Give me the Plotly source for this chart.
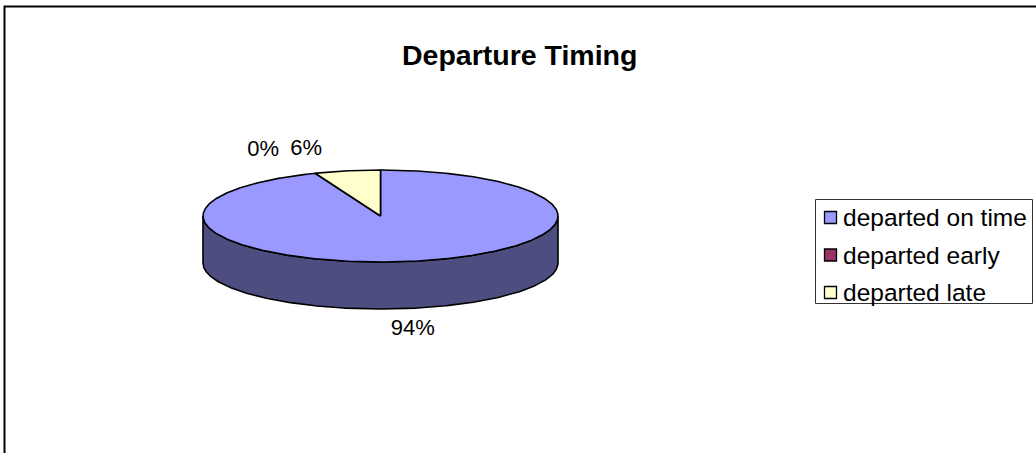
import math
import plotly.graph_objects as go

# Data
categories = ["departed on time", "departed early", "departed late"]
values = [94, 0, 6]
top_colors = ["#9999FF", "#993366", "#FFFFCC"]
side_colors = ["#4D4D80", "#4D1A33", "#808066"]

# Figure / pie geometry (pixel space)
W, H = 1036, 453
cx, cy = 380.5, 216.0      # centre of the top face
rx, ry = 177.5, 46.0       # ellipse radii of the top face
depth = 47.0               # thickness of the disc
FONT = "Liberation Sans, Arial, sans-serif"

total = float(sum(values))
fracs = [v / total for v in values]


def pt(theta_deg, dy=0.0):
    t = math.radians(theta_deg)
    return cx + rx * math.sin(t), cy - ry * math.cos(t) + dy


def arc(a0, a1, dy=0.0, step=0.5):
    n = max(2, int(abs(a1 - a0) / step) + 1)
    xs, ys = [], []
    for i in range(n):
        a = a0 + (a1 - a0) * i / (n - 1)
        x, y = pt(a, dy)
        xs.append(x)
        ys.append(y)
    return xs, ys


# slice angle ranges, clockwise from 12 o'clock
ranges = []
acc = 0.0
for f in fracs:
    ranges.append((acc * 360.0, (acc + f) * 360.0))
    acc += f

fig = go.Figure()

# front walls (visible where the arc lies between 90 and 270 degrees)
for (a0, a1), col in zip(ranges, side_colors):
    lo, hi = max(a0, 90.0), min(a1, 270.0)
    if hi - lo <= 0:
        continue
    tx, ty = arc(lo, hi)
    bx, by = arc(hi, lo, dy=depth)
    fig.add_trace(go.Scatter(
        x=tx + bx + [tx[0]], y=ty + by + [ty[0]],
        mode="lines", fill="toself", fillcolor=col,
        line=dict(color="black", width=1.6),
        hoverinfo="skip", showlegend=False))

# top faces
for (a0, a1), col, name in zip(ranges, top_colors, categories):
    if a1 - a0 <= 0:
        continue
    ax, ay = arc(a0, a1)
    fig.add_trace(go.Scatter(
        x=[cx] + ax + [cx], y=[cy] + ay + [cy],
        mode="lines", fill="toself", fillcolor=col,
        line=dict(color="black", width=1.6),
        name=name, hoverinfo="skip", showlegend=False))

# percentage labels: anchored on the rim at each slice's label angle
label_angles = []
for (a0, a1), f in zip(ranges, fracs):
    label_angles.append(a0 if f == 0 else (a0 + a1) / 2)
label_offsets = [(-1, 21), (-52, -23), (-41, -21)]
lx, ly, lt = [], [], []
for ang, f, (ox, oy) in zip(label_angles, fracs, label_offsets):
    x, y = pt(ang)
    if 90 < ang < 270:
        y += depth
    lx.append(x + ox)
    ly.append(y + oy)
    lt.append(f"{round(f * 100)}%")
fig.add_trace(go.Scatter(
    x=lx, y=ly, text=lt, mode="text", textposition="middle center",
    textfont=dict(family=FONT, size=22, color="black"),
    hoverinfo="skip", showlegend=False))

shapes = [
    # chart frame
    dict(type="rect", xref="x", yref="y", x0=4.5, y0=6.5, x1=W + 10, y1=H + 10,
         line=dict(color="black", width=2), fillcolor="rgba(0,0,0,0)", layer="below"),
    # legend frame
    dict(type="rect", xref="x", yref="y", x0=815.5, y0=199.5, x1=1032.5, y1=303.5,
         line=dict(color="#333333", width=1), fillcolor="white", layer="below"),
]
annotations = []
row_y = [217.5, 255.0, 292.5]
for name, col, yy in zip(categories, top_colors, row_y):
    shapes.append(dict(type="rect", xref="x", yref="y",
                       x0=824.5, x1=836.5, y0=yy - 6, y1=yy + 6,
                       line=dict(color="black", width=1.3), fillcolor=col))
    annotations.append(dict(x=841, y=yy, xref="x", yref="y", text=name,
                            showarrow=False, xanchor="left", yanchor="middle",
                            font=dict(family=FONT, size=24.5, color="black")))

annotations.append(dict(x=519, y=55, xref="x", yref="y", text="<b>Departure Timing</b>",
                        showarrow=False, xanchor="center", yanchor="middle",
                        font=dict(family=FONT, size=28.5, color="black")))

fig.update_layout(
    width=W, height=H,
    margin=dict(l=0, r=0, t=0, b=0),
    paper_bgcolor="white", plot_bgcolor="white",
    xaxis=dict(range=[0, W], visible=False, fixedrange=True),
    yaxis=dict(range=[H, 0], visible=False, fixedrange=True),
    shapes=shapes, annotations=annotations,
    showlegend=False,
)

fig.write_html("out.html")
